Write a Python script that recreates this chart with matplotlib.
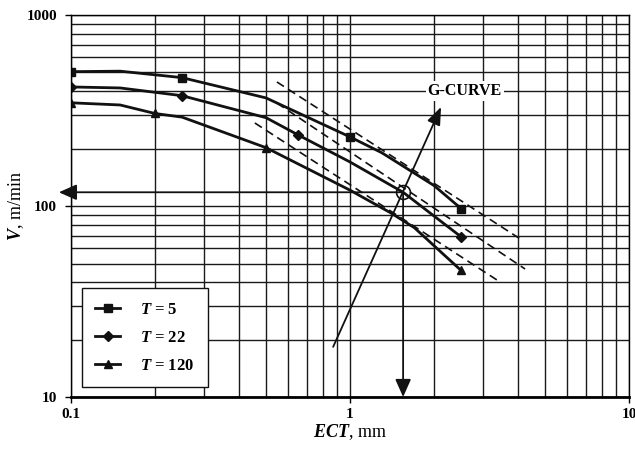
import numpy as np
import matplotlib
matplotlib.use("Agg")
import matplotlib.pyplot as plt

plt.rcParams['font.family'] = ['Liberation Serif', 'DejaVu Serif']
plt.rcParams['font.weight'] = 'bold'
plt.rcParams['mathtext.fontset'] = 'custom'
plt.rcParams['mathtext.it'] = 'Liberation Serif:italic:bold'
plt.rcParams['mathtext.rm'] = 'Liberation Serif:bold'

# curve vertices (ECT in mm, V in m/min)
ect_t5 = [0.1, 0.15, 0.25, 0.5, 1.0, 1.3, 2.0, 2.5]
v_t5 = [505, 508, 470, 368, 230, 190, 128, 97]
mark_t5 = [0, 2, 4, 7]

ect_t22 = [0.1, 0.15, 0.25, 0.5, 0.65, 1.0, 1.55, 2.5]
v_t22 = [420, 415, 378, 290, 236, 170, 118, 69]
mark_t22 = [0, 2, 4, 7]

ect_t120 = [0.1, 0.15, 0.2, 0.25, 0.5, 1.0, 1.4, 1.7, 2.5]
v_t120 = [347, 338, 305, 292, 202, 121, 92, 77, 46]
mark_t120 = [0, 2, 4, 8]

# dashed straight lines (start, end)
dash_ect = [[0.547, 4.13], [0.547, 4.24], [0.456, 3.45]]
dash_v = [[446, 66.4], [346, 46.8], [272, 40]]

# G-curve line and operating point
g_ect = [0.87, 2.12]
g_v = [18.3, 330]
op_ect = 1.55
op_v = 118

fig = plt.figure(figsize=(6.35, 4.53), dpi=100)
ax = fig.add_axes([0.1118, 0.1236, 0.8788, 0.8433])
ax.set_xscale('log')
ax.set_yscale('log')
ax.set_xlim(0.1, 10)
ax.set_ylim(10, 1000)

ax.set_xticks([0.1, 1, 10])
ax.set_xticklabels(['0.1', '1', '10'])
ax.set_yticks([10, 100, 1000])
ax.set_yticklabels(['10', '100', '1000'])
xminor = [m * d for d in (0.1, 1) for m in range(2, 10)]
yminor = [m * d for d in (10, 100) for m in range(2, 10)]
ax.set_xticks(xminor, minor=True)
ax.set_yticks(yminor, minor=True)
ax.tick_params(which='minor', length=0)
ax.tick_params(which='major', length=4, width=1, labelsize=11, pad=4)
ax.tick_params(axis='y', which='major', pad=6)
ax.grid(which='both', color='#1a1a1a', linewidth=1.0)
ax.set_axisbelow(True)

for s in ['top', 'right', 'left']:
    ax.spines[s].set_linewidth(1.0)
ax.spines['bottom'].set_linewidth(2.0)

lc = '#111111'
ax.plot(ect_t5, v_t5, '-', color=lc, lw=2, marker='s', ms=6, markevery=mark_t5, label='$T$ = 5')
ax.plot(ect_t22, v_t22, '-', color=lc, lw=2, marker='D', ms=5, markevery=mark_t22, label='$T$ = 22')
ax.plot(ect_t120, v_t120, '-', color=lc, lw=2, marker='^', ms=6, markevery=mark_t120, label='$T$ = 120')

for xs, ys in zip(dash_ect, dash_v):
    ax.plot(xs, ys, '--', color=lc, lw=1.2, dashes=(5, 3))

# G-curve arrow
ax.annotate('', xy=(g_ect[1], g_v[1]), xytext=(g_ect[0], g_v[0]),
            arrowprops=dict(arrowstyle='-|>,head_length=0.9,head_width=0.35',
                            color=lc, lw=1.3, mutation_scale=12, shrinkA=0, shrinkB=0))
ax.text(2.58, 400, 'G-CURVE', fontsize=11.5, ha='center', va='center',
        bbox=dict(facecolor='white', edgecolor='none', pad=1.5))

# operating point circle and projection arrows
ax.plot([op_ect], [op_v], 'o', ms=10, mfc='none', mec=lc, mew=1.2)
ax.annotate('', xy=(0.0905, op_v), xytext=(op_ect, op_v), annotation_clip=False,
            arrowprops=dict(arrowstyle='-|>,head_length=0.9,head_width=0.4',
                            color=lc, lw=1.3, mutation_scale=12, shrinkA=0, shrinkB=0,
                            clip_on=False))
ax.annotate('', xy=(op_ect, 10), xytext=(op_ect, op_v),
            arrowprops=dict(arrowstyle='-|>,head_length=0.9,head_width=0.4',
                            color=lc, lw=1.3, mutation_scale=12, shrinkA=0, shrinkB=0))

leg = ax.legend(loc='lower left', bbox_to_anchor=(0.0195, 0.026), fontsize=12,
                frameon=True, fancybox=False, framealpha=1, edgecolor=lc,
                handlelength=1.5, handletextpad=1.2, labelspacing=0.72,
                borderpad=0.8, borderaxespad=0)
leg.get_frame().set_linewidth(1.0)

ax.set_xlabel('$ECT$, mm', fontsize=13, labelpad=1)
ax.set_ylabel('$V$, m/min', fontsize=13, labelpad=0)

fig.savefig('out.png', dpi=100)
